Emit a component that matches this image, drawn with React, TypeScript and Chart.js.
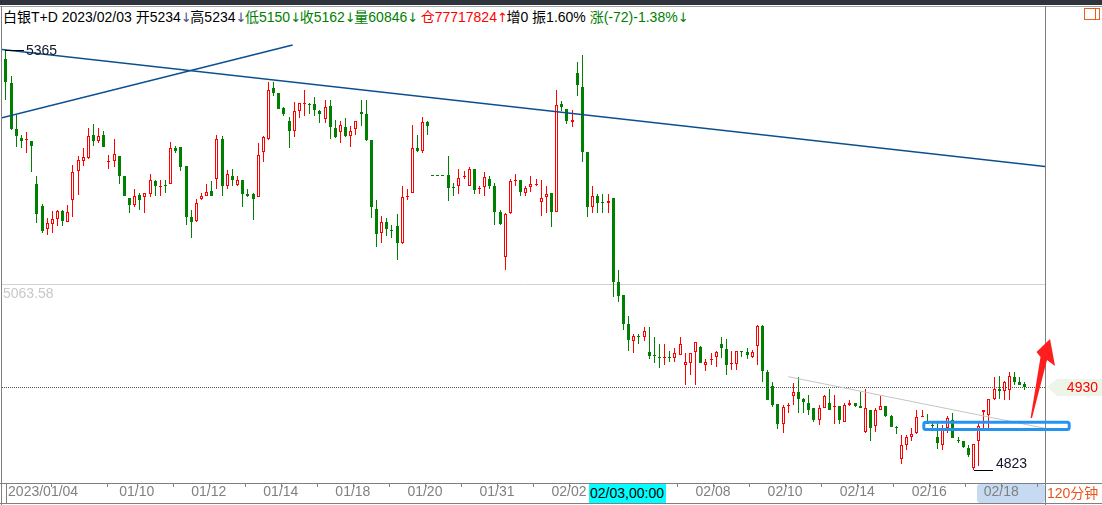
import React, { useEffect, useRef } from 'react';
import { Chart, registerables } from 'chart.js';

Chart.register(...registerables);

// ---- 120-minute candles (one entry per slot; null = non-trading flat slot, drawn dashed) ----
const opens = [
  5354,5322,5263,5252,5249,5247,5192,5164,5134,5141,
  5147,5157,5143,5172,5209,5222,5225,5255,5248,5255,
  5220,5222,5228,5202,5174,5165,5178,5175,5179,5196,
  5190,5191,5192,5238,5240,5215,5150,5144,5173,5177,
  5183,5199,5250,5189,5203,5191,5197,5179,5179,5175,
  5233,5250,5316,5309,5290,5273,5260,5286,5296,5295,
  5295,5286,5276,5293,5264,5259,5266,5254,5263,5285,
  5282,5249,5160,5129,5143,5133,5138,5116,5176,5180,
  5239,5235,5272,
  null,null,null,
  5204,5188,5189,5201,5189,5211,5186,
  5188,5199,5189,5156,5098,5155,5196,5197,5181,5188,
  5191,5169,5175,5180,5156,5295,5289,5272,5335,5317,
  5234,5163,5176,5169,5168,5174,5065,5049,5012,4990,
  4996,4995,4975,4972,4969,4968,4969,4967,4972,4959,
  4961,4975,4982,4959,4965,4969,4985,4979,4960,4960,
  4976,4975,4969,4983,5009,4950,4931,4908,4882,4905,
  4918,4923,4915,4910,4903,4887,4903,4910,4905,4906,
  4885,4907,4909,4906,4872,4901,4880,4901,4906,4893,
  4879,4837,4855,4866,4871,4892,4883,4881,4865,4855,
  4877,4887,4862,4861,4852,4825,4860,4898,4894,4914,
  4927,4925,4926,4943,4937,4934,
];
const highs = [
  5365,5331,5281,5255,5259,5247,5202,5166,5148,5157,
  5159,5158,5165,5217,5228,5238,5264,5269,5264,5260,
  5229,5250,5228,5202,5174,5186,5181,5181,5205,5197,
  5197,5197,5246,5241,5240,5215,5158,5173,5180,5192,
  5196,5255,5254,5210,5211,5202,5197,5186,5180,5245,
  5254,5324,5324,5310,5292,5279,5298,5297,5314,5297,
  5304,5288,5300,5301,5275,5274,5277,5267,5274,5300,
  5301,5249,5171,5151,5148,5139,5154,5189,5185,5268,
  5255,5278,5274,
  null,null,null,
  5228,5193,5211,5209,5214,5211,5190,
  5207,5202,5194,5158,5155,5198,5205,5197,5190,5202,
  5198,5197,5189,5181,5313,5299,5289,5288,5349,5359,
  5234,5189,5179,5179,5179,5174,5081,5049,5022,4999,
  4998,5008,5008,4995,4985,4986,4977,4980,4995,4974,
  4974,4988,4983,4966,4974,4976,4995,4992,4976,4976,
  4977,4980,4978,5010,5010,4952,4937,4908,4907,4909,
  4935,4943,4916,4920,4903,4907,4920,4928,4920,4906,
  4909,4913,4909,4923,4927,4901,4903,4918,4906,4894,
  4880,4868,4868,4877,4901,4901,4895,4884,4885,4881,
  4893,4896,4865,4861,4855,4857,4885,4901,4914,4943,
  4944,4938,4949,4949,4943,4937,
];
const lows = [
  5300,5262,5240,5238,5232,5208,5142,5129,5126,5129,
  5138,5138,5143,5149,5178,5215,5224,5241,5245,5240,
  5211,5214,5192,5176,5155,5163,5159,5155,5175,5176,
  5176,5180,5192,5232,5209,5139,5123,5143,5172,5176,
  5176,5185,5176,5186,5189,5189,5163,5175,5146,5175,
  5220,5249,5305,5289,5280,5238,5253,5277,5280,5282,
  5280,5271,5271,5250,5252,5245,5253,5240,5255,5267,
  5247,5148,5111,5116,5125,5123,5094,5115,5171,5180,
  5234,5232,5255,
  null,null,null,
  5170,5176,5179,5199,5189,5179,5179,
  5177,5186,5139,5139,5081,5154,5189,5176,5176,5182,
  5189,5151,5155,5136,5156,5286,5270,5265,5306,5220,
  5150,5155,5155,5155,5155,5046,5040,5004,4976,4974,
  4986,4989,4966,4961,4954,4958,4963,4962,4971,4933,
  4946,4933,4961,4951,4958,4956,4967,4945,4952,4952,
  4969,4966,4968,4958,4937,4913,4904,4876,4871,4896,
  4907,4896,4896,4894,4885,4881,4903,4900,4882,4882,
  4885,4906,4904,4903,4871,4861,4872,4900,4892,4878,
  4870,4831,4849,4861,4870,4891,4882,4877,4850,4849,
  4871,4864,4858,4852,4840,4823,4828,4876,4877,4913,
  4915,4913,4913,4933,4933,4926,
];
const closes = [
  5324,5263,5254,5247,5250,5241,5153,5132,5142,5147,
  5157,5144,5156,5207,5223,5227,5254,5248,5254,5240,
  5222,5231,5202,5176,5165,5177,5171,5180,5197,5189,
  5190,5190,5238,5235,5214,5150,5143,5168,5177,5182,
  5176,5250,5189,5205,5197,5197,5179,5176,5173,5230,
  5253,5314,5310,5289,5282,5260,5286,5296,5297,5294,
  5287,5282,5291,5265,5253,5268,5254,5260,5274,5283,
  5249,5162,5127,5143,5134,5132,5116,5175,5177,5239,
  5235,5272,5267,
  null,null,null,
  5187,5187,5200,5202,5211,5184,5187,
  5201,5189,5156,5141,5154,5196,5197,5182,5187,5192,
  5192,5174,5179,5156,5294,5291,5273,5275,5320,5234,
  5162,5176,5168,5168,5170,5066,5048,5011,4991,4996,
  4995,5002,4970,4971,4967,4969,4967,4974,4986,4962,
  4974,4988,4961,4962,4966,4975,4980,4958,4961,4976,
  4975,4972,4975,5009,4951,4913,4907,4882,4904,4907,
  4923,4915,4911,4901,4887,4903,4918,4901,4906,4888,
  4907,4909,4905,4903,4903,4877,4900,4906,4893,4878,
  4878,4855,4865,4869,4891,4893,4882,4880,4858,4875,
  4890,4864,4861,4853,4842,4857,4880,4900,4914,4927,
  4925,4937,4944,4937,4933,4930,
];
const gapPrice = 5204; // flat (holiday) slots

// ---- x axis labels (slot positions) ----
const xLabels = ['2023/01/04', '01/10', '01/12', '01/14', '01/18', '01/20', '01/31', '02/02', '02/08', '02/10', '02/14', '02/16', '02/18'];
const xLabelSlots = [0.4, 22, 36, 50, 64, 78, 92, 106, 134, 148, 162, 176, 190];
const xMinorSlots = [17.3, 29, 43, 57, 71, 85, 99, 113, 120, 127, 141, 155, 169, 183, 197];

// ---- reference price / drawings (slot, price) ----
const refPrice = 5063.58;
const trendDown = [[-0.8, 5365.6], [201.9, 5214.7]];
const trendUp = [[-0.78, 5277.5], [55.7, 5371.5]];
const supportLine = [[152.0, 4943.4], [201.9, 4876.8]];
const boxSlots = [178.35, 206.6];
const boxPrices = [4875.3, 4884.7];
const arrowPts = [[199.09, 4890.1], [201.03, 4968.8], [200.25, 4975.3], [202.88, 4992.0], [203.85, 4957.2], [202.29, 4964.9], [199.38, 4890.1]];

// scale ranges
const X_MIN = -0.777;
const X_MAX = 201.9;
const Y_MIN = 4806.2;
const Y_MAX = 5393.4;

const RED = '#ff0000';
const GREEN = '#008000';
const NAVY = '#0b4f8f';
const FONT = '"Liberation Sans", Arial, "Noto Sans CJK SC", sans-serif';

const HEADER_SLOT = 113;

function App() {
  const ref = useRef<HTMLCanvasElement | null>(null);

  useEffect(() => {
    document.body.style.margin = '0';
    const canvas = ref.current;
    if (!canvas) return;

    const wickData: any[] = [];
    const wickColors: string[] = [];
    const bodyData: any[] = [];
    const bodyBg: string[] = [];
    const bodyBorder: string[] = [];
    const gapSlots: number[] = [];
    for (let i = 0; i < opens.length; i++) {
      const o = opens[i];
      if (o == null) { gapSlots.push(i); continue; }
      const c = closes[i] as number;
      const up = c >= o;
      const col = up ? RED : GREEN;
      wickData.push({ x: i, y: [lows[i], highs[i]] });
      wickColors.push(col);
      bodyData.push({ x: i, y: [Math.min(o, c), Math.max(o, c)] });
      bodyBg.push(up ? '#ffffff' : GREEN);
      bodyBorder.push(col);
    }
    let hiIdx = 0, loIdx = 0;
    for (let i = 0; i < highs.length; i++) {
      if (highs[i] == null) continue;
      if ((highs[i] as number) > (highs[hiIdx] as number)) hiIdx = i;
      if ((lows[i] as number) < (lows[loIdx] as number)) loIdx = i;
    }
    const lastClose = closes[closes.length - 1] as number;

    const crisp = {
      id: 'crisp',
      beforeDatasetsDraw(chart: any) {
        chart.getSortedVisibleDatasetMetas().forEach((meta: any) => {
          if (meta.type !== 'bar') return;
          meta.data.forEach((el: any) => {
            el.x = Math.floor(el.x) + 0.5;
            const t = Math.round(Math.min(el.y, el.base));
            let b = Math.round(Math.max(el.y, el.base));
            if (b - t < 1) b = t + 1;
            el.y = t;
            el.base = b;
          });
        });
      },
    };

    const annot = {
      id: 'annot',
      beforeDatasetsDraw(chart: any) {
        const { ctx, chartArea: a, scales } = chart;
        const xs = scales.x, ys = scales.y;
        ctx.save();
        let py = Math.round(ys.getPixelForValue(refPrice)) + 0.5;
        ctx.strokeStyle = '#d2d2d2';
        ctx.lineWidth = 1;
        ctx.beginPath(); ctx.moveTo(a.left, py); ctx.lineTo(a.right, py); ctx.stroke();
        py = Math.round(ys.getPixelForValue(lastClose)) + 0.5;
        ctx.strokeStyle = '#555555';
        ctx.setLineDash([1, 1]);
        ctx.beginPath(); ctx.moveTo(a.left, py); ctx.lineTo(a.right, py); ctx.stroke();
        py = Math.round(ys.getPixelForValue(gapPrice)) + 0.5;
        ctx.strokeStyle = GREEN;
        ctx.setLineDash([3, 2]);
        ctx.beginPath();
        ctx.moveTo(Math.round(xs.getPixelForValue(gapSlots[0] - 0.4)), py);
        ctx.lineTo(Math.round(xs.getPixelForValue(gapSlots[gapSlots.length - 1] + 0.4)), py);
        ctx.stroke();
        ctx.restore();
      },
      afterDatasetsDraw(chart: any) {
        const { ctx, scales } = chart;
        const xs = scales.x, ys = scales.y;
        ctx.save();
        ctx.font = '14px ' + FONT;
        ctx.fillStyle = '#c8c8c8';
        ctx.textBaseline = 'middle';
        ctx.textAlign = 'left';
        ctx.fillText(refPrice.toFixed(2), 3, Math.round(ys.getPixelForValue(refPrice)) + 10);
        const hx = Math.floor(xs.getPixelForValue(hiIdx));
        const hy = Math.round(ys.getPixelForValue(highs[hiIdx] as number)) + 0.5;
        ctx.strokeStyle = '#000';
        ctx.lineWidth = 1;
        ctx.beginPath(); ctx.moveTo(hx, hy); ctx.lineTo(hx + 19, hy); ctx.stroke();
        ctx.fillStyle = '#15152e';
        ctx.fillText(String(highs[hiIdx]), hx + 21, hy + 1);
        const lx = Math.floor(xs.getPixelForValue(loIdx));
        const ly = Math.round(ys.getPixelForValue(lows[loIdx] as number)) + 0.5;
        ctx.beginPath(); ctx.moveTo(lx + 1, ly); ctx.lineTo(lx + 20, ly); ctx.stroke();
        ctx.textBaseline = 'bottom';
        ctx.fillText(String(lows[loIdx]), lx + 23, ly + 0.5);
        const bx1 = xs.getPixelForValue(boxSlots[0]);
        const bx2 = xs.getPixelForValue(boxSlots[1]);
        const by1 = ys.getPixelForValue(boxPrices[1]);
        const by2 = ys.getPixelForValue(boxPrices[0]);
        ctx.strokeStyle = '#2594f0';
        ctx.lineWidth = 3;
        ctx.lineJoin = 'round';
        ctx.beginPath();
        if (ctx.roundRect) ctx.roundRect(bx1, by1, bx2 - bx1, by2 - by1, 2);
        else ctx.rect(bx1, by1, bx2 - bx1, by2 - by1);
        ctx.stroke();
        ctx.fillStyle = '#ff1e1e';
        ctx.beginPath();
        arrowPts.forEach((p, k) => {
          const px = xs.getPixelForValue(p[0]);
          const pyy = ys.getPixelForValue(p[1]);
          if (k === 0) ctx.moveTo(px, pyy); else ctx.lineTo(px, pyy);
        });
        ctx.closePath();
        ctx.fill();
        const ty = Math.round(ys.getPixelForValue(lastClose));
        ctx.fillStyle = '#edf4e8';
        ctx.beginPath();
        ctx.moveTo(1047, ty);
        ctx.lineTo(1057, ty - 8);
        ctx.lineTo(1102, ty - 8);
        ctx.lineTo(1102, ty + 9);
        ctx.lineTo(1057, ty + 9);
        ctx.closePath();
        ctx.fill();
        ctx.fillStyle = RED;
        ctx.textAlign = 'right';
        ctx.textBaseline = 'middle';
        ctx.fillText(String(lastClose), 1098, ty + 1);
        ctx.restore();
      },
    };

    const lineDs = (pts: number[][], color: string, width: number) => ({
      type: 'line',
      data: pts.map((p) => ({ x: p[0], y: p[1] })),
      borderColor: color,
      borderWidth: width,
      pointRadius: 0,
      fill: false,
      tension: 0,
      order: 0,
    });

    const allTicks = [...xLabelSlots, ...xMinorSlots].sort((a, b) => a - b);

    const chart = new Chart(canvas, {
      type: 'bar',
      data: {
        datasets: [
          lineDs(trendDown, NAVY, 1.5),
          lineDs(trendUp, NAVY, 1.5),
          lineDs(supportLine, '#c4c4c4', 1),
          {
            type: 'bar',
            data: bodyData,
            backgroundColor: bodyBg,
            borderColor: bodyBorder,
            borderWidth: 1,
            borderSkipped: false,
            barThickness: 3,
            maxBarThickness: 3,
            grouped: false,
            inflateAmount: 0,
            order: 1,
          },
          {
            type: 'bar',
            data: wickData,
            backgroundColor: wickColors,
            borderWidth: 0,
            barThickness: 1,
            maxBarThickness: 1,
            grouped: false,
            inflateAmount: 0,
            order: 2,
          },
        ] as any,
      },
      options: {
        responsive: false,
        animation: false,
        devicePixelRatio: 1,
        events: [],
        layout: { padding: { top: 28, left: 2, right: 57, bottom: 0 } },
        plugins: { legend: { display: false }, tooltip: { enabled: false } },
        scales: {
          x: {
            type: 'linear',
            min: X_MIN,
            max: X_MAX,
            bounds: 'data',
            offset: false,
            border: { display: false },
            grid: { display: true, drawOnChartArea: false, drawTicks: true, tickLength: 4, color: '#808080', lineWidth: 1 },
            afterBuildTicks: (scale: any) => {
              scale.ticks = allTicks.map((v) => ({ value: v }));
            },
            afterFit: (scale: any) => {
              scale.height = 22;
            },
            ticks: {
              autoSkip: false,
              maxRotation: 0,
              minRotation: 0,
              align: 'start',
              padding: -3,
              color: '#808080',
              font: { family: FONT, size: 14 },
              callback: (v: any) => {
                const k = xLabelSlots.indexOf(Number(v));
                return k >= 0 ? xLabels[k] : '';
              },
            },
          },
          y: {
            type: 'linear',
            display: false,
            min: Y_MIN,
            max: Y_MAX,
            bounds: 'data',
          },
        },
      } as any,
      plugins: [crisp, annot],
    });
    return () => chart.destroy();
  }, []);

  const hdrO = opens[HEADER_SLOT], hdrH = highs[HEADER_SLOT], hdrL = lows[HEADER_SLOT], hdrC = closes[HEADER_SLOT];
  // [text, colour, trailing arrow, arrow colour, trailing space]
  const header: [string, string, string, string, string][] = [
    ['白银T+D 2023/02/03 ', '#000', '', '', ''],
    ['开' + hdrO, '#000', '↓', '#4a4a80', ''],
    ['高' + hdrH, '#000', '↓', '#4a4a80', ''],
    ['低' + hdrL, GREEN, '↓', GREEN, ''],
    ['收' + hdrC, GREEN, '↓', GREEN, ''],
    ['量60846', GREEN, '↓', GREEN, ' '],
    ['仓77717824', RED, '↑', RED, ''],
    ['增0 振1.60% ', '#000', '', '', ''],
    ['涨(-72)-1.38%', GREEN, '↓', GREEN, ''],
  ];

  const abs = (s: any) => ({ position: 'absolute', ...s });

  return (
    <div style={{ position: 'fixed', left: 0, top: 0, width: 1102, height: 505, background: '#fff', overflow: 'hidden', fontFamily: FONT }}>
      <div style={abs({ left: 0, top: 0, width: 1102, height: 5, background: '#2e333c' })} />
      <div style={abs({ left: 0, top: 6, width: 1102, height: 1, background: '#a0a0a0' })} />
      <div style={abs({ left: 1, top: 6, width: 1, height: 499, background: '#808080' })} />
      <div style={abs({ left: 1045, top: 6, width: 1, height: 499, background: '#808080' })} />
      <div style={abs({ left: 0, top: 483, width: 1102, height: 1, background: '#808080' })} />
      <div style={abs({ left: 0, top: 503, width: 1102, height: 1, background: '#808080' })} />
      <div style={abs({ left: 6, top: 483, width: 1, height: 20, background: '#808080' })} />
      <div style={abs({ left: 977, top: 484, width: 68, height: 19, background: '#c6dbf1', borderRadius: 3 })} />
      <div style={abs({ left: 1084, top: 8, width: 14, height: 10, border: '1px solid #e8601c' })} />
      <div style={abs({ left: 1095, top: 8, width: 1, height: 12, background: '#e8601c' })} />
      <div style={abs({ left: 3, top: 9, fontSize: 14, lineHeight: '16px', whiteSpace: 'pre' })}>
        {header.map((h, i) => (
          <span key={i} style={{ color: h[1] }}>
            {h[0]}
            {h[2] ? (
              <span style={{ display: 'inline-block', width: 9.5, textAlign: 'center', color: h[3], fontFamily: '"DejaVu Sans", sans-serif', fontSize: 13 }}>{h[2]}</span>
            ) : null}
            {h[4]}
          </span>
        ))}
      </div>
      <canvas ref={ref} width={1102} height={505} style={abs({ left: 0, top: 0, width: 1102, height: 505 })} />
      <div style={abs({ left: 589, top: 484, width: 77, height: 19, background: '#00ffff', color: '#000', fontSize: 14, lineHeight: '19px', paddingLeft: 1, boxSizing: 'border-box', whiteSpace: 'pre' })}>02/03,00:00</div>
      <div style={abs({ left: 1047, top: 485, color: '#e8551c', fontSize: 14, lineHeight: '17px', whiteSpace: 'pre' })}>120分钟</div>
    </div>
  );
}

export default App;
